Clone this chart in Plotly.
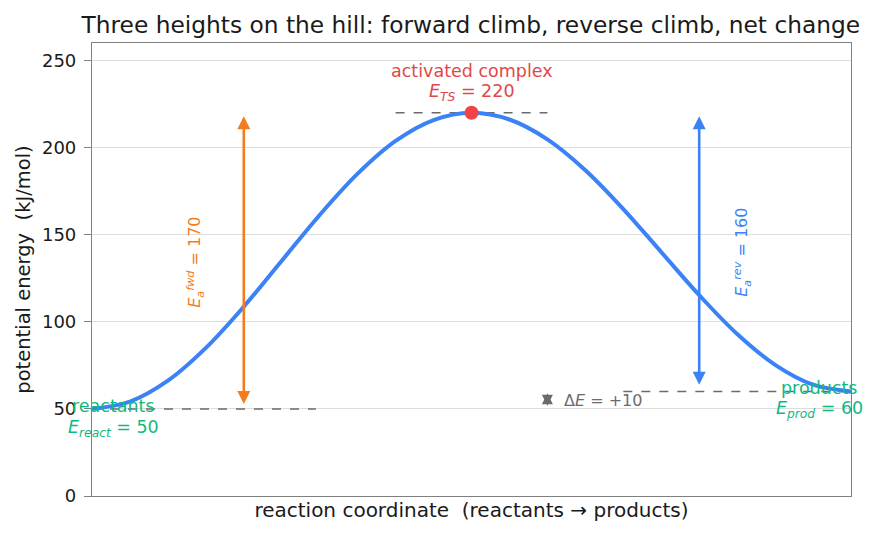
import plotly.graph_objects as go

# Reaction-coordinate samples
coord = [0.0, 0.05, 0.10, 0.15, 0.20, 0.25, 0.30, 0.35, 0.40, 0.45, 0.50,
         0.55, 0.60, 0.65, 0.70, 0.75, 0.80, 0.85, 0.90, 0.95, 1.0]
energy = [50, 54.2, 66.2, 85.0, 108.7, 135, 161.3, 185, 203.8, 215.8, 220,
          216.1, 204.7, 187, 164.7, 140, 115.3, 93, 75.3, 63.9, 60]

E_react = 50
E_ts = 220
E_prod = 60
x_ts = 0.5
yticks = [0, 50, 100, 150, 200, 250]

BLUE = "#3b82f6"
ORANGE = "#f47c1c"
RED = "#ef4444"
GREEN = "#10b981"
GRAY = "#6b6b6b"
FONT = "DejaVu Sans"

fig = go.Figure()
# reference levels
fig.add_trace(go.Scatter(x=[0, 0.295], y=[E_react, E_react], mode="lines",
                         line=dict(color=GRAY, width=1.5, dash="dash"), hoverinfo="skip"))
fig.add_trace(go.Scatter(x=[0.70, 1.0], y=[E_prod, E_prod], mode="lines",
                         line=dict(color=GRAY, width=1.5, dash="dash"), hoverinfo="skip"))
fig.add_trace(go.Scatter(x=[0.40, 0.60], y=[E_ts, E_ts], mode="lines",
                         line=dict(color=GRAY, width=1.5, dash="dash"), hoverinfo="skip"))
# energy curve
fig.add_trace(go.Scatter(x=coord, y=energy, mode="lines",
                         line=dict(color=BLUE, width=4, shape="spline"), hoverinfo="skip"))
# transition state marker
fig.add_trace(go.Scatter(x=[x_ts], y=[E_ts], mode="markers",
                         marker=dict(color=RED, size=14), hoverinfo="skip"))

anns = []
# forward arrow
anns.append(dict(x=0.2, y=E_ts - 2, ax=0.2, ay=E_react + 2, xref="x", yref="y",
                 axref="x", ayref="y", showarrow=True, arrowhead=2, startarrowhead=2,
                 arrowside="end+start", arrowsize=1, arrowwidth=2.6, arrowcolor=ORANGE, text=""))
# reverse arrow
anns.append(dict(x=0.8, y=E_ts - 2, ax=0.8, ay=E_prod + 3, xref="x", yref="y",
                 axref="x", ayref="y", showarrow=True, arrowhead=2, startarrowhead=2,
                 arrowside="end+start", arrowsize=1, arrowwidth=2.6, arrowcolor=BLUE, text=""))
# delta E small arrow
anns.append(dict(x=0.6, y=E_prod - 1, ax=0.6, ay=E_react + 1, xref="x", yref="y",
                 axref="x", ayref="y", showarrow=True, arrowhead=2, startarrowhead=2,
                 arrowside="end+start", arrowsize=1, arrowwidth=2.2, arrowcolor=GRAY, text=""))
anns.append(dict(x=0.619, y=55, xref="x", yref="y", showarrow=False, xanchor="left",
                 text="Δ<i>E</i> = +10", font=dict(color=GRAY, size=16, family=FONT)))
anns.append(dict(x=0.136, y=134, xref="x", yref="y", showarrow=False, textangle=-90,
                 text="<i>E</i><sub><i>a</i></sub><sup><i>fwd</i></sup> = 170",
                 font=dict(color=ORANGE, size=16, family=FONT)))
anns.append(dict(x=0.856, y=140, xref="x", yref="y", showarrow=False, textangle=-90,
                 text="<i>E</i><sub><i>a</i></sub><sup><i>rev</i></sup> = 160",
                 font=dict(color=BLUE, size=16, family=FONT)))
anns.append(dict(x=x_ts, y=244, xref="x", yref="y", showarrow=False,
                 text="activated complex", font=dict(color="#e04848", size=17.5, family=FONT)))
anns.append(dict(x=x_ts, y=231.5, xref="x", yref="y", showarrow=False,
                 text="<i>E</i><sub><i>TS</i></sub> = 220", font=dict(color="#e04848", size=17.5, family=FONT)))
anns.append(dict(x=0.028, y=51.7, xref="x", yref="y", showarrow=False,
                 text="reactants", font=dict(color=GREEN, size=17.5, family=FONT)))
anns.append(dict(x=0.028, y=39.0, xref="x", yref="y", showarrow=False,
                 text="<i>E</i><sub><i>react</i></sub> = 50", font=dict(color=GREEN, size=17.5, family=FONT)))
anns.append(dict(x=0.958, y=62, xref="x", yref="y", showarrow=False,
                 text="products", font=dict(color=GREEN, size=17.5, family=FONT)))
anns.append(dict(x=0.958, y=49.4, xref="x", yref="y", showarrow=False,
                 text="<i>E</i><sub><i>prod</i></sub> = 60", font=dict(color=GREEN, size=17.5, family=FONT)))

fig.update_layout(
    width=876, height=541,
    margin=dict(l=92, r=25, t=43, b=45),
    paper_bgcolor="white", plot_bgcolor="white",
    showlegend=False,
    font=dict(family=FONT, size=18, color="#1a1a1a"),
    title=dict(text="Three heights on the hill: forward climb, reverse climb, net change",
               x=0.5375, xanchor="center", y=0.955, yanchor="middle",
               font=dict(size=23.3, family=FONT, color="#1a1a1a")),
    annotations=anns,
    xaxis=dict(range=[0, 1], showticklabels=False, ticks="", showgrid=False, zeroline=False,
               showline=True, linecolor="#808080", linewidth=1.2, mirror=True,
               title=dict(text="reaction coordinate  (reactants → products)", standoff=6,
                          font=dict(size=20))),
    yaxis=dict(range=[0, 260], tickvals=yticks, ticks="outside", ticklen=7, tickcolor="#808080",
               ticklabelstandoff=4,
               showgrid=True, gridcolor="#dddddd", gridwidth=1, zeroline=False,
               showline=True, linecolor="#808080", linewidth=1.2, mirror=True,
               tickfont=dict(size=18),
               title=dict(text="potential energy  (kJ/mol)", standoff=6, font=dict(size=19.5))),
)

fig.write_html("out.html")
